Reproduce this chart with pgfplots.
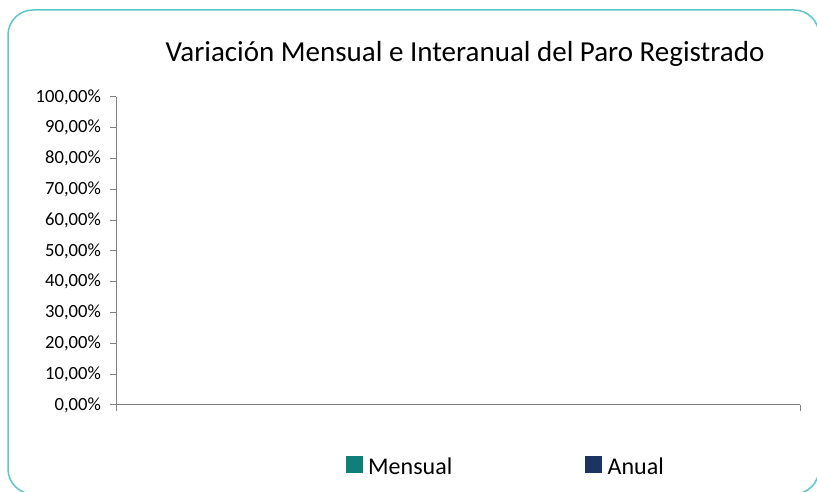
\documentclass[border=0pt]{standalone}
\usepackage{pgfplots}
\pgfplotsset{compat=1.18}
\usepackage{fontspec}
\setmainfont{Carlito}
\definecolor{bordercol}{HTML}{5CC6C6}
\definecolor{mensual}{HTML}{0F7F7A}
\definecolor{anual}{HTML}{1B3461}
\definecolor{axisgray}{HTML}{808080}
\begin{document}
\begin{tikzpicture}[x=1pt,y=1pt]
\useasboundingbox (0,0) rectangle (817,492);
\begin{scope}
\clip (0,0) rectangle (817,492);
\draw[bordercol, line width=1.5pt, rounded corners=25pt] (8,-2) rectangle (819,482);
\end{scope}
\node[anchor=base, font=\fontsize{29}{34}\selectfont, inner sep=0pt] at (465,430) {Variación Mensual e Interanual del Paro Registrado};
\begin{axis}[
  at={(116pt,87pt)}, anchor=south west,
  scale only axis, width=684pt, height=308pt,
  xmin=0, xmax=1, ymin=0, ymax=100,
  /pgf/number format/assume math mode=true,
  axis lines=left,
  axis line style={-, draw=axisgray, line width=1pt},
  tick style={draw=axisgray, line width=1pt},
  tick align=outside,
  major tick length=6pt,
  xtick={0,1}, xticklabels={},
  ytick={0,10,...,100},
  yticklabels={{0,00\%},{10,00\%},{20,00\%},{30,00\%},{40,00\%},{50,00\%},{60,00\%},{70,00\%},{80,00\%},{90,00\%},{100,00\%}},
  yticklabel style={font=\fontsize{18.6}{22}\selectfont, inner sep=0pt, xshift=-9pt},
  legend columns=2,
  legend style={draw=none, fill=none, inner sep=0pt, outer sep=0pt,
    at={(rel axis cs:0.336,-0.198)}, anchor=west,
    font=\fontsize{24}{28}\selectfont,
    nodes={inner sep=0pt},
    /tikz/every odd column/.style={column sep=6pt},
    /tikz/every even column/.style={column sep=133pt}},
]
\addlegendimage{legend image code/.code={\fill[mensual] (0pt,-6pt) rectangle (16pt,10pt);}}
\addlegendentry{Mensual}
\addlegendimage{legend image code/.code={\fill[anual] (0pt,-6pt) rectangle (16pt,10pt);}}
\addlegendentry{Anual}
\end{axis}
\end{tikzpicture}
\end{document}
